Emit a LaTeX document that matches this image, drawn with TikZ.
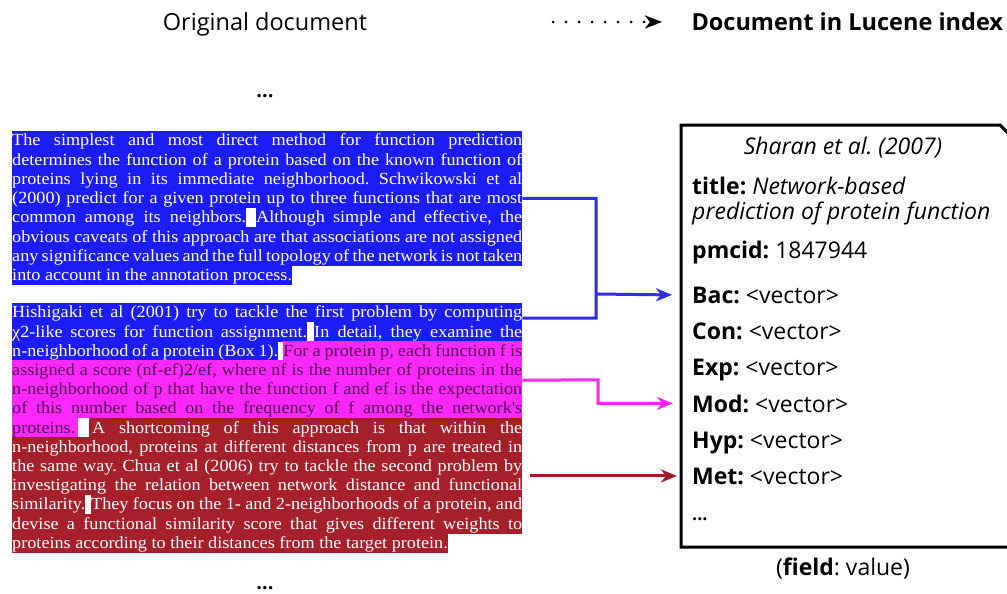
\documentclass[tikz,border=0pt]{standalone}
\usepackage{fontspec}
\setmainfont{Open Sans}
\newfontfamily\docfont[FakeStretch=1.07]{Liberation Serif}
\usetikzlibrary{arrows.meta}
\frenchspacing
\definecolor{hlblue}{RGB}{28,28,245}
\definecolor{hlmag}{RGB}{255,40,255}
\definecolor{hlred}{RGB}{165,32,42}
\definecolor{magtext}{RGB}{80,10,80}
\definecolor{arrblue}{RGB}{45,45,225}
\definecolor{arrmag}{RGB}{250,40,250}
\definecolor{arrred}{RGB}{160,28,40}
\newcommand\hlseg[7]{\node[hl, fill=#5, text=#6] (#1) at (#2,#4) {\makebox[\dimexpr #3pt-#2pt\relax][s]{#7}};}
\newcommand\hllast[6]{\node[hl, fill=#4, text=#5] (#1) at (#2,#3) {#6};}
\begin{document}
\begin{tikzpicture}[x=1pt,y=-1pt,
  hl/.style={anchor=west, inner xsep=0pt, inner ysep=0pt, minimum height=19.6pt,
    text height=14.5pt, text depth=4pt, font=\docfont\fontsize{17}{19}\selectfont\frenchspacing},
  field/.style={anchor=base west, inner sep=0pt, font=\fontsize{23}{27}\selectfont\frenchspacing},
  conn/.style={line width=3pt, line join=miter, -{Stealth[length=16pt,width=13pt,inset=5pt]}},
  head/.style={anchor=base, font=\fontsize{23.5}{27}\selectfont},
  dots/.style={anchor=base, inner sep=0pt, text height=4pt, text depth=0pt, font=\bfseries\fontsize{20}{24}\selectfont}]
\useasboundingbox (0,0) rectangle (1007,594);
\clip (0,0) rectangle (1007,594);
\fill[white] (0,0) rectangle (1007,594);

% header
\node[head] (orig) at (265,30.5) {Original document};
\node[head, font=\bfseries\fontsize{23.5}{27}\selectfont, anchor=base west] (lucene) at (688,30.5) {Document in Lucene index};
\coordinate (dstart) at (553,22);
\draw[line width=3pt, dash pattern=on 0pt off 13pt, line cap=round,
  -{Stealth[length=17pt,width=13pt,inset=5pt]}] (dstart) -- ([xshift=-26pt]lucene.west |- dstart);

\node[dots] (dtop) at (265,98) {...};
\node[dots] (dbot) at (265,589) {...};

% paragraph 1
\hlseg{p1r1}{12}{522}{140.6}{hlblue}{white}{The simplest and most direct method for function prediction}
\hlseg{p1r2}{12}{522}{159.9}{hlblue}{white}{determines the function of a protein based on the known function of}
\hlseg{p1r3}{12}{522}{179.1}{hlblue}{white}{proteins lying in its immediate neighborhood. Schwikowski et al}
\hlseg{p1r4}{12}{522}{198.4}{hlblue}{white}{(2000) predict for a given protein up to three functions that are most}
\hlseg{p1r5a}{12}{246}{217.6}{hlblue}{white}{common among its neighbors.}
\hlseg{p1r5b}{256}{522}{217.6}{hlblue}{white}{Although simple and effective, the}
\hlseg{p1r6}{12}{522}{236.9}{hlblue}{white}{obvious caveats of this approach are that associations are not assigned}
\hlseg{p1r7}{12}{522}{256.1}{hlblue}{white}{any significance values and the full topology of the network is not taken}
\hllast{p1r8}{12}{275.4}{hlblue}{white}{into account in the annotation process.}

% paragraph 2
\hlseg{p2r1}{12}{522}{312.6}{hlblue}{white}{Hishigaki et al (2001) try to tackle the first problem by computing}
\hlseg{p2r2a}{12}{307}{331.8}{hlblue}{white}{χ2-like scores for function assignment.}
\hlseg{p2r2b}{314}{522}{331.8}{hlblue}{white}{In detail, they examine the}
\hlseg{p2r3a}{12}{278}{351.0}{hlblue}{white}{n-neighborhood of a protein (Box 1).}
\hlseg{p2r3b}{283}{522}{351.0}{hlmag}{magtext}{For a protein p, each function f is}
\hlseg{p2r4}{12}{522}{370.2}{hlmag}{magtext}{assigned a score (nf-ef)2/ef, where nf is the number of proteins in the}
\hlseg{p2r5}{12}{522}{389.4}{hlmag}{magtext}{n-neighborhood of p that have the function f and ef is the expectation}
\hlseg{p2r6}{12}{522}{408.6}{hlmag}{magtext}{of this number based on the frequency of f among the network's}
\hlseg{p2r7a}{12}{78}{427.8}{hlmag}{magtext}{proteins.}
\hlseg{p2r7b}{89}{522}{427.8}{hlred}{white}{\hspace{3pt}A shortcoming of this approach is that within the}
\hlseg{p2r8}{12}{522}{447.0}{hlred}{white}{n-neighborhood, proteins at different distances from p are treated in}
\hlseg{p2r9}{12}{522}{466.2}{hlred}{white}{the same way. Chua et al (2006) try to tackle the second problem by}
\hlseg{p2r10}{12}{522}{485.4}{hlred}{white}{investigating the relation between network distance and functional}
\hlseg{p2r11a}{12}{85}{504.6}{hlred}{white}{similarity.}
\hlseg{p2r11b}{91}{522}{504.6}{hlred}{white}{They focus on the 1- and 2-neighborhoods of a protein, and}
\hlseg{p2r12}{12}{522}{523.8}{hlred}{white}{devise a functional similarity score that gives different weights to}
\hllast{p2r13}{12}{543.0}{hlred}{white}{proteins according to their distances from the target protein.}

% document box
\draw[line width=3pt, line join=miter] (681,125) -- (1000,125) -- (1016,141) -- (1016,547) -- (681,547) -- cycle;
\node[field, anchor=base, font=\itshape\fontsize{23}{27}\selectfont\frenchspacing] (author) at (843,154) {Sharan et al. (2007)};
\node[field] (title1) at (692,194) {\textbf{title:} \textit{Network-based}};
\node[field] (title2) at (692,219) {\textit{prediction of protein function}};
\node[field] (pmcid) at (692,258) {\textbf{pmcid:} 1847944};
\node[field] (bac) at (692,303) {\textbf{Bac:} <vector>};
\node[field] (con) at (692,339) {\textbf{Con:} <vector>};
\node[field] (exp) at (692,375) {\textbf{Exp:} <vector>};
\node[field] (mod) at (692,412) {\textbf{Mod:} <vector>};
\node[field] (hyp) at (692,448) {\textbf{Hyp:} <vector>};
\node[field] (met) at (692,484) {\textbf{Met:} <vector>};
\node[field, font=\bfseries\fontsize{18}{22}\selectfont] (more) at (692,520) {...};
\node[field, anchor=base] (legend) at (843,575) {(\textbf{field}: value)};

% connectors
\draw[line width=3pt, line join=miter, arrblue] (p1r4.east) -- (596,198.4) -- (596,318) -- ([yshift=-5.5pt]p2r1.east);
\draw[conn, arrblue] (596,294) -- ([xshift=-20pt]bac.west);
\draw[conn, arrmag] (p2r4.south east) -- (598,379.8) |- ([xshift=-19pt]mod.west);
\draw[conn, arrred, shorten <=8pt] (p2r9.south east |- met.west) -- ([xshift=-15pt]met.west);
\end{tikzpicture}
\end{document}
